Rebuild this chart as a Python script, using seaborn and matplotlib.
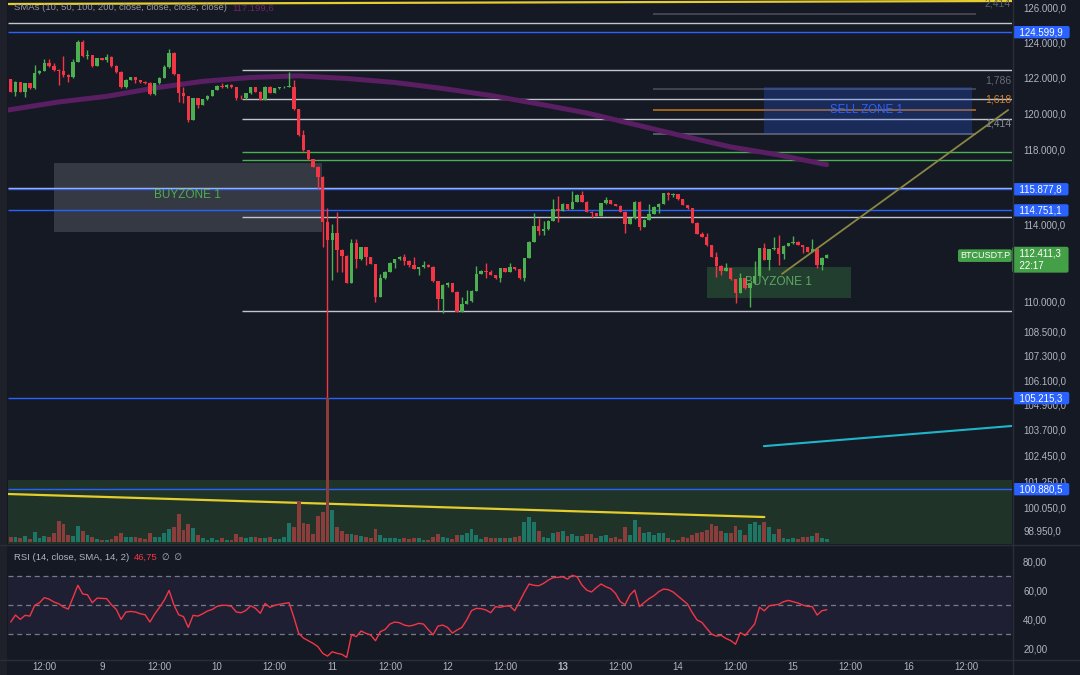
import matplotlib
matplotlib.use("Agg")
import matplotlib.pyplot as plt
from matplotlib.lines import Line2D
from matplotlib.patches import Rectangle
from matplotlib.ticker import NullLocator
import numpy as np
import seaborn as sns

# BTCUSDT.P, 1h candles, first bar = Oct 8 05:00
first_open = 121917
close = [121220, 121765, 121220, 121690, 121410, 122260, 122400, 122855, 122685, 122440,
         122410, 122160, 122030, 122910, 124035, 123250, 123280, 122670, 123100, 123010,
         123200, 122670, 122350, 121470, 121880, 122030, 121880, 121750, 121725, 121090,
         121690, 122010, 122590, 123425, 122215, 121130, 120995, 119650, 120850, 120480,
         120795, 120980, 121315, 121540, 121470, 121595, 121470, 120850, 120840, 121130,
         121470, 121220, 120755, 121500, 121150, 121410, 121470, 121500, 121510, 120240,
         118820, 118000, 117495, 117095, 116555, 114160, 113200, 113545, 112675, 112365,
         110985, 113055, 112190, 112815, 112295, 111950, 110270, 111215, 111550, 112015,
         112190, 112325, 112120, 111895, 111690, 111780, 111895, 111810, 111075, 110140,
         110870, 110955, 110525, 109510, 109900, 110020, 110575, 111435, 111605, 111535,
         111385, 111215, 111730, 111550, 111780, 111675, 111215, 112245, 113090, 113930,
         113685, 113755, 114210, 114815, 114740, 115095, 114815, 115215, 115575, 115215,
         114685, 114600, 114460, 115130, 115305, 115095, 114990, 114685, 114035, 114335,
         115215, 113895, 114250, 114565, 114950, 115095, 115665, 115560, 115625, 115345,
         115040, 114865, 114105, 113510, 113370, 112935, 112325, 111845, 111605, 111730,
         111160, 110475, 111215, 110700, 110955, 111330, 112765, 112155, 112710, 112795,
         112470, 112885, 113020, 113110, 112935, 112815, 112590, 112710, 111895, 112275,
         112411.3]
high = [121950, 121800, 121780, 121720, 121720, 122720, 122460, 123050, 123050, 122855,
        122480, 123240, 122200, 123050, 124170, 124150, 123580, 123300, 123140, 123120,
        123350, 123220, 122700, 122380, 121910, 122065, 122065, 121900, 121800, 121740,
        121720, 122040, 122720, 123635, 123440, 122240, 121500, 121000, 120880, 120870,
        120830, 121010, 121340, 121570, 121725, 121630, 121655, 121490, 121010, 121160,
        121500, 121490, 121260, 121530, 121520, 121440, 121500, 121530, 122345, 121880,
        120260, 119100, 118020, 117520, 117110, 116570, 114880, 114035, 114685, 112720,
        112400, 113235, 113235, 112850, 112840, 112310, 111960, 111435, 111580, 112040,
        112220, 112360, 112470, 112150, 112295, 111810, 112105, 111920, 111840, 111090,
        110900, 110990, 110970, 110540, 110270, 110615, 110600, 111845, 111640, 112015,
        111620, 111400, 111760, 111760, 112015, 111800, 111690, 112270, 113120, 114600,
        114335, 114195, 114240, 115345, 115520, 115130, 115110, 115805, 115600, 115805,
        115230, 114720, 114620, 115160, 115450, 115320, 115110, 115010, 114700, 114360,
        115240, 115230, 114280, 115095, 114980, 115120, 115690, 115720, 115700, 115640,
        115360, 115060, 114880, 114120, 113615, 113580, 112950, 112590, 111870, 112015,
        111750, 111180, 111500, 111230, 110980, 112120, 112790, 113055, 112740, 113340,
        113460, 112910, 113050, 113405, 113130, 112950, 112830, 113250, 112730, 112300,
        112470]
low = [121180, 121000, 121180, 120940, 121380, 121380, 122200, 122380, 122630, 122385,
       121600, 122065, 121780, 122000, 122880, 123200, 123050, 122620, 122640, 122980,
       122910, 122630, 122255, 121430, 121440, 121850, 121690, 121720, 121635, 121060,
       121060, 121650, 121990, 122570, 122160, 120660, 120605, 119550, 119620, 120290,
       120450, 120770, 120960, 121290, 121410, 121440, 121440, 120755, 120810, 120820,
       121100, 121190, 120730, 120730, 121120, 121120, 121380, 121440, 121470, 120200,
       118760, 117950, 117450, 117050, 115895, 112850, 105215, 111125, 111550, 111550,
       110950, 110960, 111730, 112160, 111895, 111920, 109985, 110250, 111190, 111530,
       111745, 112150, 111895, 111780, 111660, 111385, 111760, 111780, 111040, 109595,
       109460, 110780, 110500, 109480, 109480, 109880, 109990, 110560, 111420, 111215,
       111360, 111190, 111040, 111520, 111540, 111650, 111190, 111075, 112230, 113070,
       113460, 113460, 113720, 114200, 114160, 114720, 114790, 114800, 115200, 115190,
       114660, 114335, 114430, 114440, 115110, 115070, 114960, 114660, 113580, 114010,
       114300, 113720, 113870, 114230, 114540, 114635, 115070, 115305, 115450, 115320,
       115010, 114840, 114080, 113490, 113340, 112900, 112285, 111265, 111385, 111580,
       111130, 109965, 110450, 110670, 109765, 110930, 111310, 112130, 111640, 112690,
       111900, 112190, 112860, 113000, 112910, 112535, 112560, 112570, 111730, 111640,
       112250]
volume = [5.7, 5.7, 4.0, 6.7, 3.3, 10.3, 4.0, 6.3, 5.0, 9.7,
          21.7, 18.0, 7.3, 6.7, 16.3, 11.0, 7.0, 5.0, 3.3, 2.0,
          2.7, 3.3, 6.7, 9.0, 5.0, 5.7, 5.0, 4.0, 3.3, 9.7,
          5.7, 5.7, 9.0, 13.7, 15.7, 28.3, 12.0, 18.0, 14.0, 7.3,
          4.0, 2.7, 4.0, 2.7, 4.0, 2.7, 2.3, 8.0, 5.7, 4.7,
          5.7, 5.3, 4.7, 4.0, 5.7, 3.3, 3.3, 5.0, 19.0, 15.3,
          41.0, 19.3, 18.0, 8.3, 26.0, 30.7, 144.0, 32.0, 15.3, 11.7,
          8.3, 8.3, 7.0, 6.3, 5.7, 4.3, 13.0, 7.0, 4.7, 4.0,
          4.0, 3.3, 4.0, 3.3, 4.0, 4.0, 2.7, 2.3, 5.7, 8.0,
          5.7, 4.0, 3.0, 7.0, 7.0, 9.0, 13.0, 7.0, 3.3, 5.0,
          4.0, 4.7, 4.0, 4.0, 4.0, 5.7, 6.3, 20.0, 25.0, 20.0,
          11.3, 5.7, 4.3, 9.7, 10.3, 11.0, 6.7, 8.3, 6.7, 6.7,
          8.0, 8.0, 4.0, 6.7, 7.3, 4.3, 5.0, 3.3, 15.0, 7.3,
          22.3, 15.0, 9.0, 10.3, 7.3, 9.7, 9.7, 4.3, 2.7, 2.7,
          5.7, 4.7, 7.3, 9.0, 10.3, 12.3, 18.3, 16.3, 11.3, 9.0,
          9.0, 16.3, 12.0, 7.3, 18.3, 20.0, 17.3, 20.0, 15.7, 8.0,
          13.0, 4.0, 3.3, 4.0, 3.3, 5.7, 5.0, 6.7, 9.7, 4.3,
          3.3]
rsi = [38.3, 43.1, 40.1, 42.9, 42.4, 49.8, 51.6, 55.1, 54.1, 52.1,
       50.9, 48.6, 47.2, 55.3, 63.6, 57.6, 57.1, 51.6, 54.8, 54.6,
       54.4, 50.2, 47.0, 40.1, 45.2, 45.6, 45.2, 44.0, 43.3, 38.3,
       43.8, 48.4, 53.4, 60.1, 50.2, 43.3, 42.0, 34.6, 42.9, 42.4,
       44.0, 45.9, 47.0, 49.1, 49.8, 49.8, 49.1, 45.2, 44.7, 46.3,
       49.5, 47.7, 44.3, 51.1, 48.4, 49.8, 50.5, 51.1, 51.6, 41.5,
       30.5, 27.2, 25.4, 23.6, 21.3, 16.7, 14.8, 17.8, 16.7, 16.0,
       13.9, 29.5, 28.2, 32.1, 30.5, 29.3, 25.4, 31.6, 33.2, 36.9,
       38.3, 37.8, 36.2, 35.5, 36.2, 37.4, 36.9, 33.0, 29.5, 35.5,
       36.2, 34.6, 30.7, 32.8, 34.6, 39.7, 46.1, 47.7, 47.5, 46.6,
       44.7, 48.9, 48.4, 49.3, 49.3, 46.1, 52.3, 58.7, 64.5, 63.6,
       63.3, 64.9, 67.2, 68.9, 69.1, 69.5, 67.9, 70.5, 69.5, 63.8,
       60.3, 59.0, 62.0, 64.5, 62.6, 61.3, 58.0, 52.3, 50.2, 56.9,
       60.3, 48.9, 51.8, 54.4, 56.4, 59.2, 61.0, 60.6, 59.0, 56.2,
       53.4, 50.7, 44.7, 39.7, 38.0, 33.9, 30.0, 28.6, 29.1, 27.0,
       25.5, 23.0, 31.0, 29.0, 33.0, 37.0, 48.5, 46.0, 49.5, 50.0,
       50.5, 52.3, 53.2, 52.3, 51.4, 50.0, 49.1, 48.9, 43.1, 46.1,
       46.75]
# SMA 200 read at a few bars
sma_bar = [-0.5, 10, 20, 30, 40, 50, 60, 70, 80, 90, 100, 110, 120, 130, 140, 150, 160, 170]
sma_val = [120200, 120645, 120960, 121428, 121800, 122018, 122110, 121962, 121737, 121400,
           121009, 120534, 120034, 119398, 118766, 118164, 117729, 117199.6]

tick_bars = [7, 19, 31, 43, 55, 67, 79, 91, 103, 115, 127, 139, 151, 163, 175, 187, 199]
tick_labels = ['12:00', '9', '12:00', '10', '12:00', '11', '12:00', '12', '12:00', '13',
               '12:00', '14', '12:00', '15', '12:00', '16', '12:00']
price_ticks = [126000, 124000, 122000, 120000, 118000, 114000, 110000,
               108500, 107300, 106100, 104900, 103700, 102450, 101250, 100050, 98950]
rsi_ticks = [80, 60, 40, 20]

BG = '#151924'
TXT = '#b2b5be'
GREEN = '#4caf50'
RED = '#f23645'
BLUE = '#2962ff'
WHITE = '#c2c5cc'
FIBGRAY = '#4e515b'


def tv(v, d=1):
    s = f"{v:,.{d}f}"
    return s.replace(',', 'X').replace('.', ',').replace('X', '.')


sns.set_theme(style='dark', rc={'axes.facecolor': BG, 'figure.facecolor': BG,
                                'axes.edgecolor': BG, 'axes.grid': False,
                                'text.color': TXT, 'xtick.color': TXT, 'ytick.color': TXT})
plt.rcParams['font.family'] = ['Liberation Sans', 'DejaVu Sans']

W, H = 1080, 675
fig = plt.figure(figsize=(W / 100, H / 100), dpi=100, facecolor=BG)


def frame(x0, y0, x1, y1):
    return [x0 / W, 1 - y1 / H, (x1 - x0) / W, (y1 - y0) / H]


ax = fig.add_axes(frame(8, 0, 1012, 544))
rax = fig.add_axes(frame(8, 545, 1012, 659), sharex=ax)
ax.set_yscale('log')
XMIN, XMAX = -0.56, 208.6
ax.set_xlim(XMIN, XMAX)
ax.set_ylim(98357, 126466)

bars = np.arange(len(close))
close_a = np.array(close, dtype=float)
opens = np.array([first_open] + close[:-1], dtype=float)
up = close_a >= opens

# zones
ax.add_patch(Rectangle((XMIN, 98000), XMAX - XMIN, 101305 - 98000, color='#1f3329', lw=0, zorder=0.5))
ax.add_patch(Rectangle((9.0, 113616), 64.9 - 9.0, 117294 - 113616, color='#787b86', alpha=0.33, lw=0, zorder=1))
ax.add_patch(Rectangle((145.1, 110205), 175.0 - 145.1, 111794 - 110205, color=GREEN, alpha=0.25, lw=0, zorder=1))

# horizontal levels: price, colour, start bar
levels = [(125112, WHITE, XMIN), (124599.9, BLUE, XMIN), (122442, WHITE, 48.2), (120794, WHITE, 48.2),
          (119689, WHITE, 48.2), (117877, GREEN, 48.2), (117442, GREEN, 48.2), (115950, WHITE, XMIN),
          (115877.8, BLUE, XMIN), (114751.1, BLUE, XMIN), (114386, WHITE, 48.2), (109537, WHITE, 48.2),
          (105215.3, BLUE, XMIN), (100880.5, BLUE, XMIN)]
for p, c, x0 in levels:
    ax.hlines(p, x0, XMAX, color=c, lw=1.0, zorder=2)

fib_levels = [(125670, FIBGRAY), (121372, FIBGRAY), (120200, '#c8741a'), (118877, '#6a6d77')]
for p, c in fib_levels:
    ax.hlines(p, 133.8, 201.1, color=c, lw=1.1, zorder=2)
fib_text = [('2,414', 126290, '#5d6069'), ('1,786', 121850, '#6a6d77'),
            ('1,618', 120796, '#d9822b'), ('1,414', 119428, '#8a8d96')]
for t, p, c in fib_text:
    ax.text(208.4, p, t, ha='right', va='center', color=c, fontsize=7.5, zorder=5)

# SMA 200
sns.lineplot(x=sma_bar, y=sma_val, ax=ax, color='#5a1e63', linewidth=3.6, zorder=2.5)

# candles
colors = np.where(up, GREEN, RED)
body_lo = np.minimum(opens, close_a)
body_h = np.maximum(np.abs(close_a - opens), 25)
ax.vlines(bars, low, high, colors=colors, lw=1, zorder=3)
ax.bar(bars, body_h, bottom=body_lo, width=0.7, color=colors, lw=0, zorder=3.1)

# sell zone on top of levels
ax.add_patch(Rectangle((156.9, 118850), 200.3 - 156.9, 121480 - 118850, color=BLUE, alpha=0.25, lw=0, zorder=3.5))
ax.text(178.2, 120200, 'SELL ZONE 1', ha='center', va='center', color=BLUE, fontsize=8.3, zorder=5)
ax.text(36.9, 115570, 'BUYZONE 1', ha='center', va='center', color=GREEN, fontsize=8.5, zorder=5)
ax.text(160.0, 111030, 'BUYZONE 1', ha='center', va='center', color='#5ea862', fontsize=8.5, zorder=5)

# trend lines
ax.plot([XMIN, XMAX], [126233, 126408], color='#e6cd2e', lw=1.6, zorder=4)
ax.plot([XMIN, 157.0], [100656, 99590], color='#e6cd2e', lw=1.6, zorder=4)
ax.plot([160.7, 207.8], [111433, 120200], color='#8a8743', lw=1.3, zorder=4)
ax.plot([156.9, XMAX], [102907, 103871], color='#1fb5c9', lw=1.5, zorder=4)

# volume overlay
vol = ax.twinx()
vol.set_ylim(-1.7, 542.3)
vol.bar(bars, volume, width=0.78, color=np.where(up, '#1d7566', '#8a3d3a'), lw=0)
vol.set_yticks([])
vol.tick_params(axis='both', length=0, labelright=False, labelbottom=False)

# right price scale
ax.yaxis.tick_right()
ax.set_yticks(price_ticks, labels=[tv(p) for p in price_ticks])
ax.yaxis.set_minor_locator(NullLocator())
ax.tick_params(axis='y', which='both', length=0, pad=8, labelsize=7, labelcolor=TXT)
ax.tick_params(axis='x', which='both', length=0, labelbottom=False)
for a in (ax, vol, rax):
    for s in a.spines.values():
        s.set_visible(False)

for p in [124599.9, 115877.8, 114751.1, 105215.3, 100880.5]:
    ax.annotate('  ' + tv(p) + '  ', xy=(1.0, p), xycoords=('axes fraction', 'data'),
                xytext=(1.6, 0), textcoords='offset points', ha='left', va='center',
                fontsize=7, color='white', annotation_clip=False, zorder=6,
                bbox=dict(boxstyle='round,pad=0.12,rounding_size=0.2', fc=BLUE, ec='none'))
last = close[-1]
ax.annotate('  ' + tv(last) + '  \n  22:17', xy=(1.0, last), xycoords=('axes fraction', 'data'),
            xytext=(1.6, 4.5), textcoords='offset points', ha='left', va='top',
            fontsize=7, color='white', annotation_clip=False, zorder=6, linespacing=1.25,
            bbox=dict(boxstyle='round,pad=0.2,rounding_size=0.2', fc='#43a047', ec='none'))
ax.annotate('BTCUSDT.P', xy=(1.0, last), xycoords=('axes fraction', 'data'),
            xytext=(-1.5, -0.5), textcoords='offset points', ha='right', va='center',
            fontsize=6.5, color='white', annotation_clip=False, zorder=6,
            bbox=dict(boxstyle='round,pad=0.2,rounding_size=0.2', fc='#43a047', ec='none'))

# RSI pane
rax.set_ylim(12.8, 91.4)
rax.axhspan(30, 70, color='#7e57c2', alpha=0.1, lw=0)
for lvl in (70, 50, 30):
    rax.axhline(lvl, color='#787b86', lw=0.9, ls=(0, (4, 3)))
sns.lineplot(x=bars, y=rsi, ax=rax, color=RED, linewidth=1.0)
rax.yaxis.tick_right()
rax.set_yticks(rsi_ticks, labels=[tv(v, 2) for v in rsi_ticks])
rax.tick_params(axis='y', length=0, pad=8, labelsize=7, labelcolor=TXT)
rax.set_xticks(tick_bars, labels=tick_labels)
rax.tick_params(axis='x', length=0, pad=2.5, labelsize=7, labelcolor=TXT)
for lab in rax.get_xticklabels():
    if lab.get_text() == '13':
        lab.set_fontweight('bold')
rax.set_xlim(XMIN, XMAX)
rax.set_xlabel('')
rax.set_ylabel('')
ax.set_xlabel('')
ax.set_ylabel('')

# legends
fig.text(14 / W, 1 - 8 / H, 'SMAs (10, 50, 100, 200, close, close, close, close)',
         va='center', ha='left', color='#9598a1', fontsize=6.8)
fig.text(232 / W, 1 - 8 / H, tv(sma_val[-1]), va='center', ha='left', color='#6c2470', fontsize=6.8)
fig.text(14 / W, 1 - 557 / H, 'RSI (14, close, SMA, 14, 2)', va='center', ha='left', color=TXT, fontsize=6.8)
fig.text(134 / W, 1 - 557 / H, tv(rsi[-1], 2), va='center', ha='left', color=RED, fontsize=6.8)
fig.text(162 / W, 1 - 557 / H, '∅  ∅', va='center', ha='left', color=TXT, fontsize=6.3)

# pane borders
sep = '#2a2e39'
fig.add_artist(Line2D([0, 1], [1 - 544.5 / H] * 2, color=sep, lw=1))
fig.add_artist(Line2D([0, 1], [1 - 659.5 / H] * 2, color=sep, lw=1))
fig.add_artist(Line2D([1012.5 / W] * 2, [0, 1], color=sep, lw=1))
fig.add_artist(Rectangle((0, 0), 7 / W, 1, transform=fig.transFigure, color='#1e2129', lw=0))

fig.savefig('out.png', dpi=100, facecolor=BG)
